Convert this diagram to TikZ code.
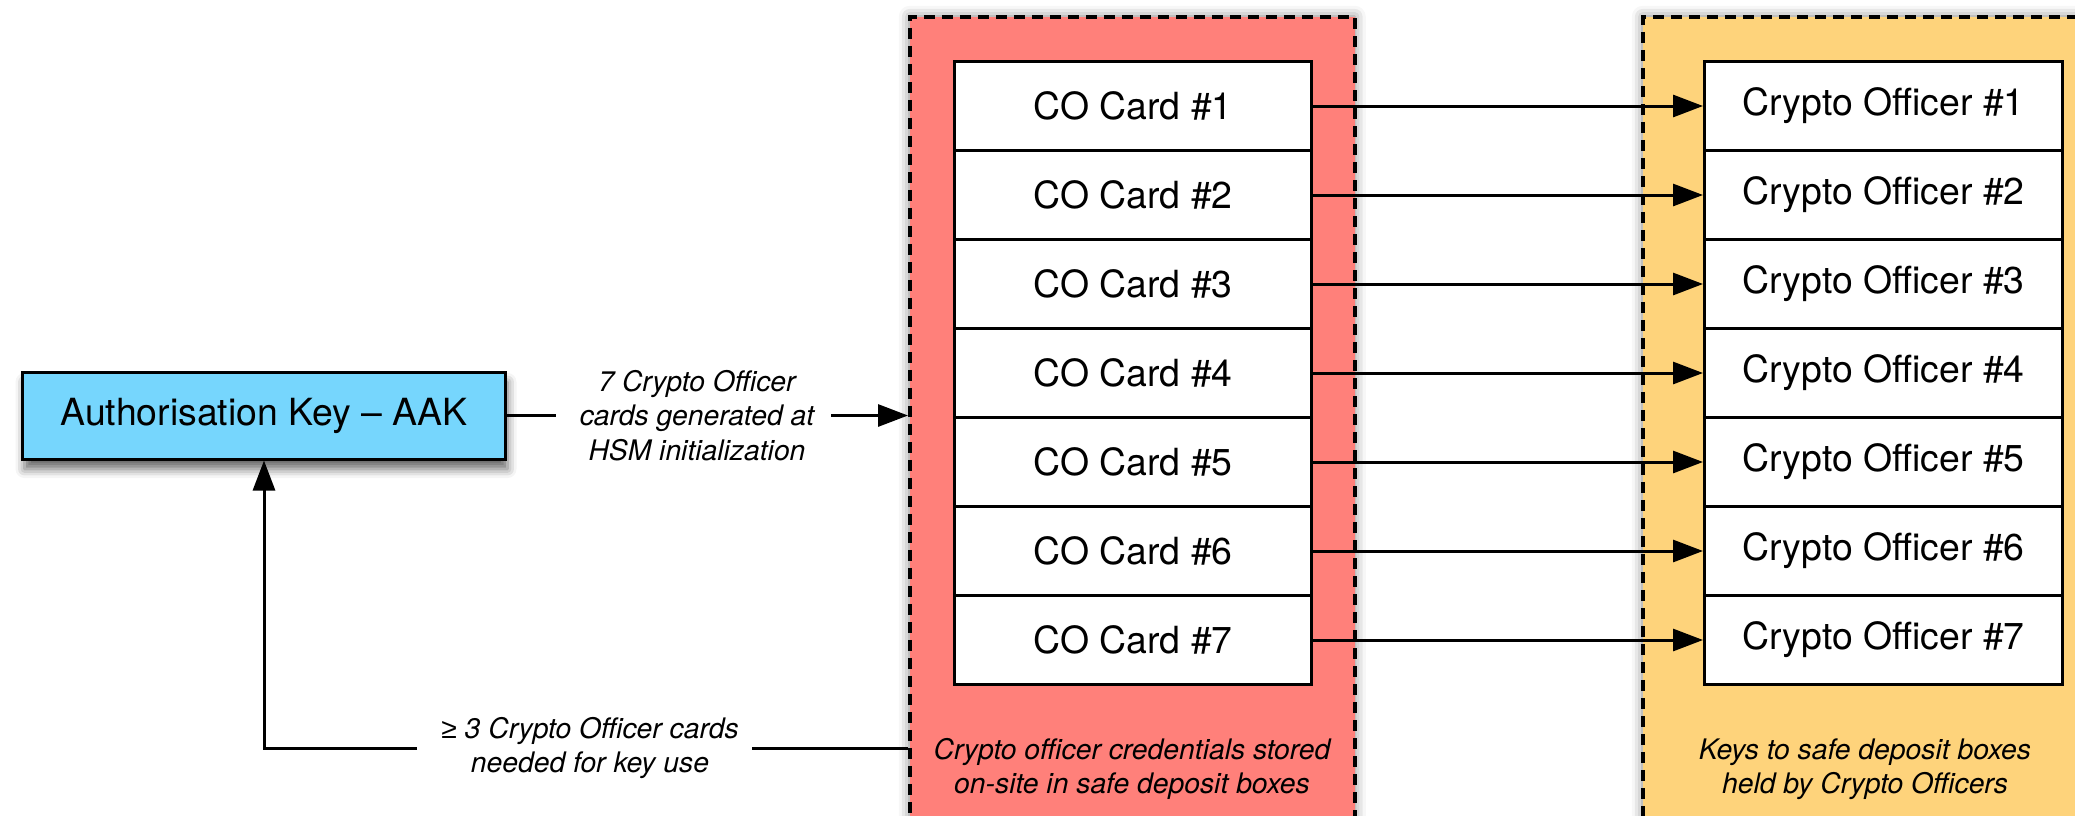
\documentclass[tikz,border=0pt]{standalone}
\usepackage{fontspec}
\setmainfont{TeX Gyre Heros}
\newfontfamily\symf{Liberation Sans}
\usetikzlibrary{arrows.meta,shadows.blur}
\definecolor{aakblue}{RGB}{118,214,253}
\definecolor{redfill}{RGB}{255,128,122}
\definecolor{yelfill}{RGB}{254,211,123}
\tikzset{
  container/.style={draw=black, line width=3.5pt, dash pattern=on 11pt off 7pt, rectangle, inner sep=0pt,
     blur shadow={shadow xshift=0pt, shadow yshift=0pt, shadow blur radius=11pt, shadow opacity=50}},
  cardbox/.style={draw=black, fill=white, line width=3pt, rectangle, inner sep=0pt,
     minimum height=89pt, anchor=north west, font=\fontsize{37.4}{44}\selectfont},
  lbl/.style={align=center, font=\fontsize{28.3}{34.4}\selectfont\itshape, inner sep=0pt},
  conn/.style={line width=3pt, draw=black},
  arr/.style={conn, -{Triangle[length=30pt,width=22pt]}},
}
\begin{document}
\begin{tikzpicture}[x=1pt,y=-1pt]
\useasboundingbox (0,0) rectangle (2075,815);
% containers
\node[container, fill=redfill, minimum width=445pt, minimum height=845pt, anchor=north west] (redc) at (908,15) {};
\node[container, fill=yelfill, minimum width=470pt, minimum height=845pt, anchor=north west] (yelc) at (1641,15) {};
% cards and officers
\foreach \i in {1,...,7}{
  \node[cardbox, minimum width=357pt] (c\i) at (953,{60+89*(\i-1)}) {CO Card \#\i};
  \node[cardbox, minimum width=358pt] (o\i) at (1703,{60+89*(\i-1)}) {Crypto Officer \#\i};
  \draw[arr] (c\i.east) -- (o\i.west);
}
% container captions
\node[lbl] (redtxt) at (1132,769) {Crypto officer credentials stored\\on-site in safe deposit boxes};
\node[lbl] (yeltxt) at (1865,769) {Keys to safe deposit boxes\\held by Crypto Officers};
% AAK
\node[draw=black, fill=aakblue, line width=3pt, rectangle, inner sep=0pt,
      minimum width=483pt, minimum height=87pt, font=\fontsize{37.4}{44}\selectfont,
      blur shadow={shadow xshift=2pt, shadow yshift=-10pt, shadow blur radius=9pt, shadow opacity=60}]
      (aak) at (264,415.5) {Authorisation Key -- AAK};
% top connector
\node[lbl] (lab1) at (697,415.5) {7 Crypto Officer\\cards generated at\\HSM initialization};
\coordinate (g1) at (556,415.5);
\coordinate (g2) at (831,415.5);
\draw[conn] (aak.east) -- (g1);
\draw[arr] (g2) -- (redc.west |- lab1);
% bottom connector
\node[lbl] (lab2) at (590,748) {{\symf ≥} 3 Crypto Officer cards\\needed for key use};
\coordinate (l2r) at (752,748);
\coordinate (l2l) at (417,748);
\draw[conn] (redc.west |- lab2) -- (l2r);
\draw[arr] (l2l) -| (aak.south);
\end{tikzpicture}
\end{document}
